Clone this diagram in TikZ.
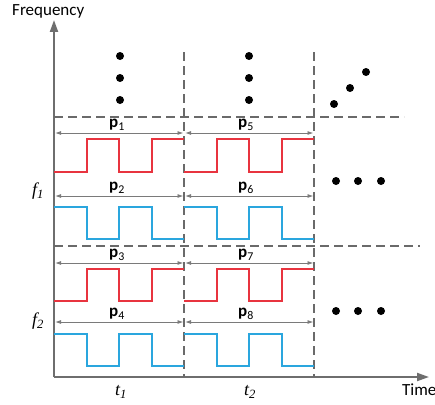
\documentclass[tikz,border=0pt]{standalone}
\usepackage{fontspec}
\setmainfont{Carlito}
\newfontfamily\itserif{Liberation Serif}
\usetikzlibrary{arrows.meta}
\definecolor{axgray}{HTML}{6E6E6E}
\definecolor{dgray}{HTML}{6A6A6A}
\definecolor{agray}{HTML}{7A7A7A}
\definecolor{sred}{HTML}{E8343F}
\definecolor{sblue}{HTML}{2AA6DE}
\tikzset{
  axis/.style={draw=axgray, line width=2pt, -{Triangle[length=12pt,width=8pt]}},
  grid/.style={draw=dgray, line width=1.3pt, dash pattern=on 9pt off 5pt},
  parrow/.style={draw=agray, line width=0.9pt, {Latex[length=6pt,width=4pt]}-{Latex[length=6pt,width=4pt]}},
  redsig/.style={draw=sred, line width=1.4pt},
  bluesig/.style={draw=sblue, line width=1.4pt},
  dotm/.style={circle, fill=black, inner sep=0pt, minimum size=8pt},
  plab/.style={font=\fontsize{17}{17}\selectfont\bfseries, inner sep=0pt},
  vlab/.style={font=\fontsize{18}{18}\selectfont\itserif\itshape, inner sep=0pt},
  axlab/.style={font=\fontsize{17}{17}\selectfont, inner sep=0pt}
}
\newcommand\redwave[3]{%
  \draw[redsig] (#1,#3) -| ({#1+33},#2) -| ({#1+65},#3) -| ({#1+98},#2) -- ({#1+130},#2);}
\newcommand\bluewave[3]{%
  \draw[bluesig] (#1,#2) -| ({#1+33},#3) -| ({#1+65},#2) -| ({#1+98},#3) -- ({#1+130},#3);}
\begin{document}
\begin{tikzpicture}[x=1pt,y=-1pt]
\useasboundingbox (0,0) rectangle (435,404);
% axes
\coordinate (O) at (54,377);
\coordinate (ytop) at (54,20);
\coordinate (xend) at (429,377);
\draw[axis] (O) -- (ytop);
\draw[axis] (O) -- (xend);
\node[axlab, anchor=west] (freq) at (12,11) {Frequency};
\node[axlab, anchor=west] (time) at (402,390) {Time};
% dashed grid
\coordinate (v1t) at (184,52); \coordinate (v1b) at (184,377);
\coordinate (v2t) at (314,52); \coordinate (v2b) at (314,377);
\coordinate (h1l) at (54,117); \coordinate (h1r) at (404,117);
\coordinate (h2l) at (54,246); \coordinate (h2r) at (420,246);
\draw[grid] (v1t) -- (v1b);
\draw[grid] (v2t) -- (v2b);
\draw[grid] (h1l) -- (h1r);
\draw[grid] (h2l) -- (h2r);
% signals
\redwave{54}{139}{172}
\redwave{184}{139}{172}
\bluewave{54}{207}{239}
\bluewave{184}{207}{239}
\redwave{54}{269}{301}
\redwave{184}{269}{301}
\bluewave{54}{334}{366}
\bluewave{184}{334}{366}
% period arrows
\foreach \r/\y in {a/133,b/196,c/263,d/322}{
  \coordinate (\r1) at (55,\y);
  \coordinate (\r2) at (183.5,\y);
  \coordinate (\r3) at (185,\y);
  \coordinate (\r4) at (313.5,\y);
  \draw[parrow] (\r1) -- (\r2);
  \draw[parrow] (\r3) -- (\r4);
}
\node[plab] (p1) at (117,125) {p\textsubscript{\normalfont 1}};
\node[plab] (p5) at (246,125) {p\textsubscript{\normalfont 5}};
\node[plab] (p2) at (117,188) {p\textsubscript{\normalfont 2}};
\node[plab] (p6) at (246,188) {p\textsubscript{\normalfont 6}};
\node[plab] (p3) at (117,255) {p\textsubscript{\normalfont 3}};
\node[plab] (p7) at (246,255) {p\textsubscript{\normalfont 7}};
\node[plab] (p4) at (117,314) {p\textsubscript{\normalfont 4}};
\node[plab] (p8) at (246,314) {p\textsubscript{\normalfont 8}};
% value labels
\node[vlab] (f1) at (38,191) {f\textsubscript{1}};
\node[vlab] (f2) at (38,321) {f\textsubscript{2}};
\node[vlab] (t1) at (121,392) {t\textsubscript{1}};
\node[vlab] (t2) at (250,392) {t\textsubscript{2}};
% dots
\node[dotm] (da1) at (120,56) {};
\node[dotm] (da2) at (120,78) {};
\node[dotm] (da3) at (120,100) {};
\node[dotm] (db1) at (249,56) {};
\node[dotm] (db2) at (249,78) {};
\node[dotm] (db3) at (249,100) {};
\node[dotm] (dc1) at (334,104) {};
\node[dotm] (dc2) at (350,88) {};
\node[dotm] (dc3) at (366,72) {};
\node[dotm] (dd1) at (336,181) {};
\node[dotm] (dd2) at (358,181) {};
\node[dotm] (dd3) at (381,181) {};
\node[dotm] (de1) at (336,311) {};
\node[dotm] (de2) at (358,311) {};
\node[dotm] (de3) at (381,311) {};
\end{tikzpicture}
\end{document}
